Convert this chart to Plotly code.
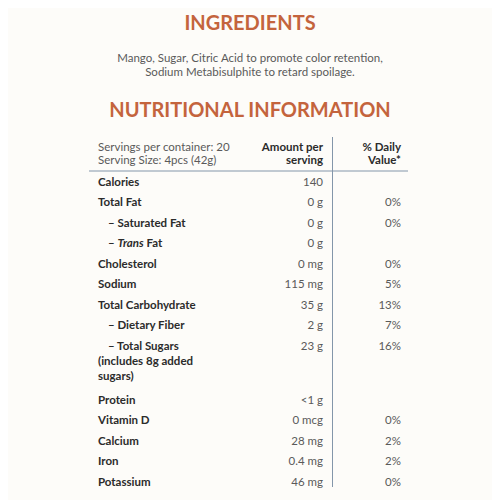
import plotly.graph_objects as go

# Label content
title_top = "INGREDIENTS"
ingredients = ["Mango, Sugar, Citric Acid to promote color retention,",
               "Sodium Metabisulphite to retard spoilage."]
title_table = "NUTRITIONAL INFORMATION"

head_left = ["Servings per container: 20", "Serving Size: 4pcs (42g)"]
head_amount = ["Amount per", "serving"]
head_dv = ["% Daily", "Value*"]

labels = ["Calories", "Total Fat", "– Saturated Fat", "– <i>Trans</i> Fat",
          "Cholesterol", "Sodium", "Total Carbohydrate", "– Dietary Fiber",
          "– Total Sugars", "Protein", "Vitamin D", "Calcium", "Iron", "Potassium"]
amounts = ["140", "0 g", "0 g", "0 g", "0 mg", "115 mg", "35 g", "2 g", "23 g",
           "<1 g", "0 mcg", "28 mg", "0.4 mg", "46 mg"]
daily = ["", "0%", "0%", "", "0%", "5%", "13%", "7%", "16%", "", "0%", "2%", "2%", "0%"]
indent = [0, 0, 1, 1, 0, 0, 0, 1, 1, 0, 0, 0, 0, 0]
notes = {8: ["(includes 8g added", "sugars)"]}

ORANGE = "#c4643d"
DARK = "#2b2b2b"
GREY = "#5a5a5a"
RULE = "#8396aa"
FONT = "Lato"
BODY = 11.5

# layout in a 500x500 coordinate frame
X_LEFT, X_AMT, X_DV = 98, 323, 401
ROW0, STEP, NOTE_STEP = 183, 20.5, 16.75
PAGE_OFF = 8  # browser body margin

row_y, note_x, note_y, note_t = [], [], [], []
y = ROW0
for i in range(len(labels)):
    row_y.append(y)
    extra = notes.get(i, [])
    for k, t in enumerate(extra):
        note_x.append(X_LEFT)
        note_y.append(y + 15 * (k + 1))
        note_t.append("<b>" + t + "</b>")
    y += STEP + NOTE_STEP * len(extra)

fig = go.Figure()

def txt(x, y, t, pos, size, color):
    fig.add_trace(go.Scatter(x=x, y=y, text=t, mode="text", textposition=pos,
                             textfont=dict(family=FONT, size=size, color=color),
                             hoverinfo="skip", showlegend=False))

# titles and ingredients
txt([250], [25], ["<b>" + title_top + "</b>"], "middle center", 20, ORANGE)
txt([250, 250], [59.5, 73.5], ingredients, "middle center", BODY, GREY)
txt([250], [112], ["<b>" + title_table + "</b>"], "middle center", 20, ORANGE)

# header
txt([X_LEFT] * 2, [148, 161], head_left, "middle right", BODY, GREY)
txt([X_AMT] * 2, [148, 161], ["<b>" + t + "</b>" for t in head_amount], "middle left", BODY, DARK)
txt([X_DV] * 2, [148, 161], ["<b>" + t + "</b>" for t in head_dv], "middle left", BODY, DARK)

# rows
txt([X_LEFT + 10 * d for d in indent], row_y, ["<b>" + l + "</b>" for l in labels],
    "middle right", BODY, DARK)
txt(note_x, note_y, note_t, "middle right", BODY, DARK)
txt([X_AMT] * len(amounts), row_y, amounts, "middle left", BODY, GREY)
txt([X_DV] * len(daily), row_y, daily, "middle left", BODY, GREY)

# rules
fig.add_shape(type="line", x0=89, x1=408, y0=171, y1=171, line=dict(color=RULE, width=1))
fig.add_shape(type="line", x0=332.5, x1=332.5, y0=137, y1=487, line=dict(color=RULE, width=1))

fig.update_layout(width=500, height=500, margin=dict(l=0, r=0, t=0, b=0),
                  paper_bgcolor="#fdfcf9", plot_bgcolor="#fdfcf9",
                  xaxis=dict(range=[PAGE_OFF, 500 + PAGE_OFF], visible=False),
                  yaxis=dict(range=[500 + PAGE_OFF, PAGE_OFF], visible=False))

fig.write_html("out.html")
